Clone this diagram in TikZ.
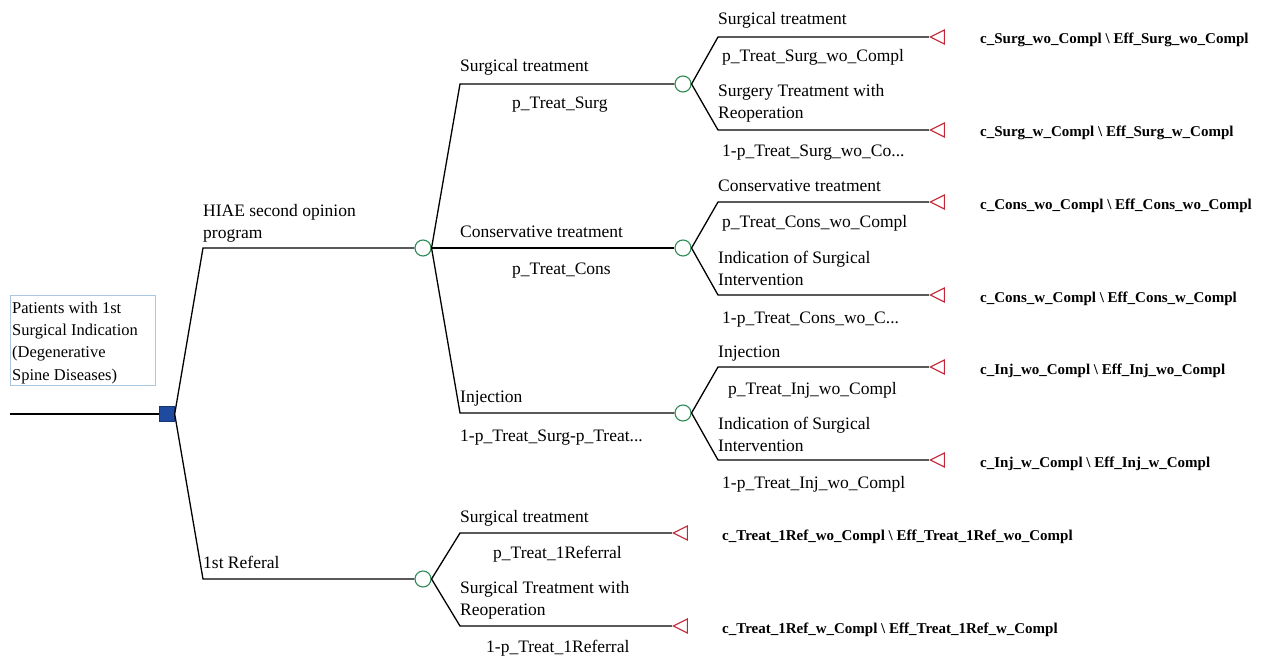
\documentclass[tikz,border=0pt]{standalone}
\usepackage{fontspec}
\setmainfont{Liberation Serif}
\usetikzlibrary{shapes.geometric}
\definecolor{chancegreen}{RGB}{46,139,87}
\definecolor{termred}{RGB}{196,40,56}
\definecolor{decblue}{RGB}{30,74,160}
\definecolor{boxblue}{RGB}{170,200,225}
\tikzset{
  branch/.style={line width=1.3pt, black},
  chance/.style={circle, draw=chancegreen, line width=1.1pt, fill=white, minimum size=16pt, inner sep=0pt},
  decision/.style={rectangle, draw=decblue!70!black, fill=decblue, minimum size=15pt, inner sep=0pt},
  terminal/.style={isosceles triangle, shape border rotate=180, draw=termred, line width=1.1pt, fill=white, minimum height=14pt, minimum width=14pt, isosceles triangle stretches, inner sep=0pt},
  lbl/.style={anchor=base west, inner sep=0pt, font=\fontsize{17.5}{22}\selectfont, align=left},
  tlbl/.style={anchor=base west, inner sep=0pt, font=\fontsize{15}{18}\selectfont\bfseries},
}
\begin{document}
\begin{tikzpicture}[x=1pt,y=-1pt]
\useasboundingbox (0,0) rectangle (1266,658);

% root
\coordinate (start) at (10,414);
\node[decision] (dec) at (167,414) {};
\draw[branch] (start) -- (dec.west);
\node[draw=boxblue, line width=0.8pt, minimum width=145pt, minimum height=90pt, anchor=north west, inner sep=0pt] (box) at (10,295) {};
\node[lbl, font=\fontsize{16.5}{22.3}\selectfont] (boxtext) at (12,380) {Patients with 1st\\Surgical Indication\\(Degenerative\\Spine Diseases)};

% first level
\node[chance] (c1) at (423,248) {};
\node[chance] (c2) at (423,579) {};
\coordinate (k1) at (203,248);
\coordinate (k2) at (203,579);
\draw[branch] (dec.east) -- (k1) -- (c1.west);
\draw[branch] (dec.east) -- (k2) -- (c2.west);
\node[lbl] (l1) at (203,238) {HIAE second opinion\\program};
\node[lbl] (l2) at (203,568) {1st Referal};

% second level under c1
\node[chance] (c11) at (683,84) {};
\node[chance] (c12) at (683,248) {};
\node[chance] (c13) at (683,413) {};
\coordinate (k11) at (460,84);
\coordinate (k13) at (460,413);
\draw[branch] (c1.east) -- (k11) -- (c11.west);
\draw[branch] (c1.east) -- (c12.west);
\draw[branch] (c1.east) -- (k13) -- (c13.west);
\node[lbl] (l11) at (460,72) {Surgical treatment};
\node[lbl] (p11) at (512,109) {p\_Treat\_Surg};
\node[lbl] (l12) at (460,237) {Conservative treatment};
\node[lbl] (p12) at (512,274) {p\_Treat\_Cons};
\node[lbl] (l13) at (460,402) {Injection};
\node[lbl] (p13) at (460,441) {1-p\_Treat\_Surg-p\_Treat...};

% under c11
\coordinate (k111) at (718,37);
\coordinate (k112) at (718,130);
\node[terminal] (t111) at (940,37) {};
\node[terminal] (t112) at (940,130) {};
\draw[branch] (c11.east) -- (k111) -- (t111.apex);
\draw[branch] (c11.east) -- (k112) -- (t112.apex);
\node[lbl] (l111) at (718,25) {Surgical treatment};
\node[lbl] (p111) at (722,62) {p\_Treat\_Surg\_wo\_Compl};
\node[lbl] (l112) at (718,119) {Surgery Treatment with\\Reoperation};
\node[lbl] (p112) at (722,157) {1-p\_Treat\_Surg\_wo\_Co...};
\node[tlbl] (v111) at (980,44) {c\_Surg\_wo\_Compl \textbackslash{} Eff\_Surg\_wo\_Compl};
\node[tlbl] (v112) at (980,137) {c\_Surg\_w\_Compl \textbackslash{} Eff\_Surg\_w\_Compl};

% under c12
\coordinate (k121) at (718,202);
\coordinate (k122) at (718,295);
\node[terminal] (t121) at (940,202) {};
\node[terminal] (t122) at (940,295) {};
\draw[branch] (c12.east) -- (k121) -- (t121.apex);
\draw[branch] (c12.east) -- (k122) -- (t122.apex);
\node[lbl] (l121) at (718,191) {Conservative treatment};
\node[lbl] (p121) at (722,227) {p\_Treat\_Cons\_wo\_Compl};
\node[lbl] (l122) at (718,285) {Indication of Surgical\\Intervention};
\node[lbl] (p122) at (722,323) {1-p\_Treat\_Cons\_wo\_C...};
\node[tlbl] (v121) at (980,209) {c\_Cons\_wo\_Compl \textbackslash{} Eff\_Cons\_wo\_Compl};
\node[tlbl] (v122) at (980,302) {c\_Cons\_w\_Compl \textbackslash{} Eff\_Cons\_w\_Compl};

% under c13
\coordinate (k131) at (718,367);
\coordinate (k132) at (718,460);
\node[terminal] (t131) at (940,367) {};
\node[terminal] (t132) at (940,460) {};
\draw[branch] (c13.east) -- (k131) -- (t131.apex);
\draw[branch] (c13.east) -- (k132) -- (t132.apex);
\node[lbl] (l131) at (718,357) {Injection};
\node[lbl] (p131) at (728,394) {p\_Treat\_Inj\_wo\_Compl};
\node[lbl] (l132) at (718,451) {Indication of Surgical\\Intervention};
\node[lbl] (p132) at (722,488) {1-p\_Treat\_Inj\_wo\_Compl};
\node[tlbl] (v131) at (980,374) {c\_Inj\_wo\_Compl \textbackslash{} Eff\_Inj\_wo\_Compl};
\node[tlbl] (v132) at (980,467) {c\_Inj\_w\_Compl \textbackslash{} Eff\_Inj\_w\_Compl};

% under c2
\coordinate (k21) at (460,533);
\coordinate (k22) at (460,626);
\node[terminal] (t21) at (683,533) {};
\node[terminal] (t22) at (683,626) {};
\draw[branch] (c2.east) -- (k21) -- (t21.apex);
\draw[branch] (c2.east) -- (k22) -- (t22.apex);
\node[lbl] (l21) at (460,522) {Surgical treatment};
\node[lbl] (p21) at (493,558) {p\_Treat\_1Referral};
\node[lbl] (l22) at (460,615) {Surgical Treatment with\\Reoperation};
\node[lbl] (p22) at (486,652) {1-p\_Treat\_1Referral};
\node[tlbl] (v21) at (722,540) {c\_Treat\_1Ref\_wo\_Compl \textbackslash{} Eff\_Treat\_1Ref\_wo\_Compl};
\node[tlbl] (v22) at (722,633) {c\_Treat\_1Ref\_w\_Compl \textbackslash{} Eff\_Treat\_1Ref\_w\_Compl};
\end{tikzpicture}
\end{document}
